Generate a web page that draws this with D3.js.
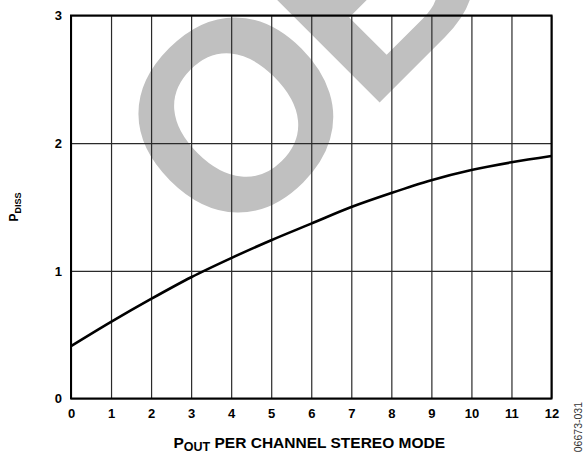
<!DOCTYPE html>
<html>
<head>
<meta charset="utf-8">
<script src="https://cdn.jsdelivr.net/npm/d3@7/dist/d3.min.js"></script>
<style>
  html, body { margin: 0; padding: 0; background: #fff; }
  svg { display: block; }
  text { font-family: "Liberation Sans", Arial, sans-serif; }
</style>
</head>
<body>
<svg id="chart" width="588" height="454"></svg>
<script>
// Output power per channel (W), stereo mode
const pOut = [0, 1, 2, 3, 4, 5, 6, 7, 8, 9, 10, 11, 12];
// Power dissipation (W)
const pDiss = [0.41, 0.60, 0.78, 0.95, 1.10, 1.24, 1.37, 1.50, 1.61, 1.71, 1.79, 1.85, 1.90];
const xTicks = [0, 1, 2, 3, 4, 5, 6, 7, 8, 9, 10, 11, 12];
const yTicks = [0, 1, 2, 3];

const svg = d3.select("#chart");
const plotL = 71, plotR = 551.5, plotT = 15.5, plotB = 398.5;

const x = d3.scaleLinear().domain([0, 12]).range([plotL, plotR]);
const y = d3.scaleLinear().domain([0, 3]).range([plotB, plotT]);

// Watermark
svg.append("text")
  .attr("transform", "translate(228,254) rotate(-45)")
  .attr("font-size", 268)
  .attr("font-weight", "bold")
  .attr("letter-spacing", -12)
  .attr("fill", "#c0c0c0")
  .text("OBSOLETE");

// Grid lines
const gx = svg.append("g")
  .attr("transform", `translate(0,${plotB})`)
  .call(d3.axisBottom(x).tickValues(xTicks).tickSize(-(plotB - plotT)).tickFormat(""));
gx.select(".domain").remove();
gx.selectAll("line").attr("stroke", "#2a2a2a").attr("stroke-width", 1.2);

const gy = svg.append("g")
  .attr("transform", `translate(${plotL},0)`)
  .call(d3.axisLeft(y).tickValues(yTicks).tickSize(-(plotR - plotL)).tickFormat(""));
gy.select(".domain").remove();
gy.selectAll("line").attr("stroke", "#2a2a2a").attr("stroke-width", 1.2);

// Frame
svg.append("rect")
  .attr("x", plotL).attr("y", plotT)
  .attr("width", plotR - plotL).attr("height", plotB - plotT)
  .attr("fill", "none").attr("stroke", "#000").attr("stroke-width", 2);

// Tick labels
const ax = svg.append("g")
  .attr("transform", `translate(0,${plotB})`)
  .call(d3.axisBottom(x).tickValues(xTicks).tickSize(0).tickPadding(10.5).tickFormat(d3.format("d")));
ax.select(".domain").remove();
ax.selectAll("text")
  .attr("font-family", "'Liberation Sans', Arial, sans-serif")
  .attr("font-size", 13).attr("font-weight", "bold").attr("fill", "#000");

const ay = svg.append("g")
  .attr("transform", `translate(${plotL},0)`)
  .call(d3.axisLeft(y).tickValues(yTicks).tickSize(0).tickPadding(9).tickFormat(d3.format("d")));
ay.select(".domain").remove();
ay.selectAll("text")
  .attr("font-family", "'Liberation Sans', Arial, sans-serif")
  .attr("font-size", 13).attr("font-weight", "bold").attr("fill", "#000");

// Curve
const line = d3.line()
  .x((d, i) => x(pOut[i]))
  .y(d => y(d))
  .curve(d3.curveMonotoneX);
svg.append("path")
  .datum(pDiss)
  .attr("d", line)
  .attr("fill", "none")
  .attr("stroke", "#000")
  .attr("stroke-width", 2.6);

// Axis titles
const xt = svg.append("text")
  .attr("x", (plotL + plotR) / 2 - 2).attr("y", 448)
  .attr("text-anchor", "middle")
  .attr("font-size", 15.5).attr("font-weight", "bold");
xt.append("tspan").text("P");
xt.append("tspan").attr("font-size", 12.5).attr("dy", 3).text("OUT");
xt.append("tspan").attr("dy", -3).text(" PER CHANNEL STEREO MODE");

const yt = svg.append("text")
  .attr("transform", `translate(18,${(plotT + plotB) / 2}) rotate(-90)`)
  .attr("text-anchor", "middle")
  .attr("font-size", 12).attr("font-weight", "bold");
yt.append("tspan").text("P");
yt.append("tspan").attr("font-size", 9).attr("dy", 2.5).text("DISS");

// Figure code
svg.append("text")
  .attr("transform", "translate(582,402) rotate(-90)")
  .attr("text-anchor", "end")
  .attr("font-size", 10.5)
  .attr("fill", "#333")
  .text("06673-031");
</script>
</body>
</html>
